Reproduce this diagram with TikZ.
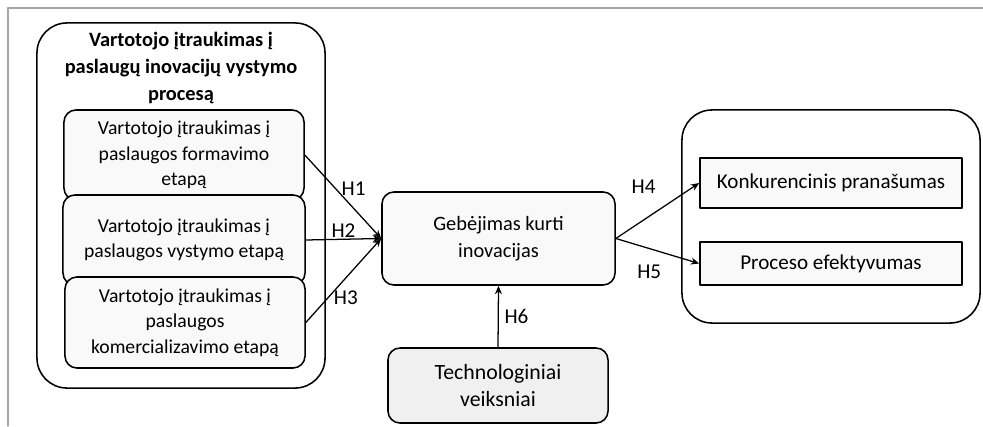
\documentclass[tikz,border=0pt]{standalone}
\usepackage{fontspec}
\setmainfont{Carlito}
\usetikzlibrary{arrows.meta,positioning}

\begin{document}
\begin{tikzpicture}[line cap=round,line join=round,x=0.025cm,y=-0.025cm,
		box/.style={draw,line width=1.1pt,fill=gray!5,rounded corners=0.3cm,align=center,inner sep=2pt,font=\fontsize{14}{18}\selectfont},
		bigbox/.style={draw,line width=1.1pt,rounded corners=0.75cm,inner sep=0pt},
		sqbox/.style={draw,line width=1.1pt,fill=gray!5,font=\fontsize{15}{18}\selectfont},
		hyp/.style={-{Stealth[length=6pt,width=5pt]},line width=0.9pt},
		hlab/.style={font=\fontsize{15}{17}\selectfont,inner sep=1pt}]
		\useasboundingbox (0,0) rectangle (983,426);
		\draw[gray!70,line width=1pt] (8,426) -- (8,8) -- (983,8);
		
		\node[bigbox,minimum width=7.2cm,minimum height=9.125cm] (proc) at (181,205.5) {};
		\node[align=center,font=\bfseries\fontsize{14.5}{19}\selectfont] (title) at (181,68) {Vartotojo įtraukimas į\\paslaugų inovacijų vystymo\\procesą};
		\node[box,minimum width=6cm,minimum height=2.25cm] (form) at (184,155) {Vartotojo įtraukimas į\\paslaugos formavimo\\etapą};
		\node[box,minimum width=6.05cm,minimum height=2.25cm] (vyst) at (184,240) {Vartotojo įtraukimas į\\paslaugos vystymo etapą};
		\node[box,minimum width=6cm,minimum height=2.275cm] (kom) at (185,322.5) {Vartotojo įtraukimas į\\paslaugos\\komercializavimo etapą};
		
		\node[box,minimum width=5.825cm,minimum height=2.325cm,font=\fontsize{14.5}{19}\selectfont] (geb) at (498.5,238.5) {Gebėjimas kurti\\inovacijas};
		\node[box,fill=gray!12,minimum width=5.5cm,minimum height=1.875cm,font=\fontsize{15.5}{19.5}\selectfont] (tech) at (498,385.5) {Technologiniai\\veiksniai};
		
		\node[bigbox,minimum width=7.45cm,minimum height=5.325cm] (rez) at (831,216.5) {};
		\node[sqbox,minimum width=6.55cm,minimum height=1.25cm] (konk) at (831,183) {Konkurencinis pranašumas};
		\node[sqbox,minimum width=6.55cm,minimum height=1.075cm] (efekt) at (831,263.5) {Proceso efektyvumas};
		
		\draw[hyp] (form.east) -- node[hlab,pos=0.4,right=3pt] {H1} (geb.west);
		\draw[hyp] (vyst.east) -- node[hlab,pos=0.5,above] {H2} (geb.west);
		\draw[hyp] (kom.east) -- node[hlab,pos=0.29,right=3pt] {H3} (geb.west);
		\draw[hyp] (geb.east) -- node[hlab,pos=0.5,above left=11pt and 0pt] {H4} (konk.west);
		\draw[hyp] (geb.east) -- node[hlab,pos=0.4,below=10pt] {H5} (efekt.west);
		\draw[hyp] (tech.north) -- node[hlab,pos=0.5,right=3pt] {H6} (geb.south);
	\end{tikzpicture}
\end{document}
